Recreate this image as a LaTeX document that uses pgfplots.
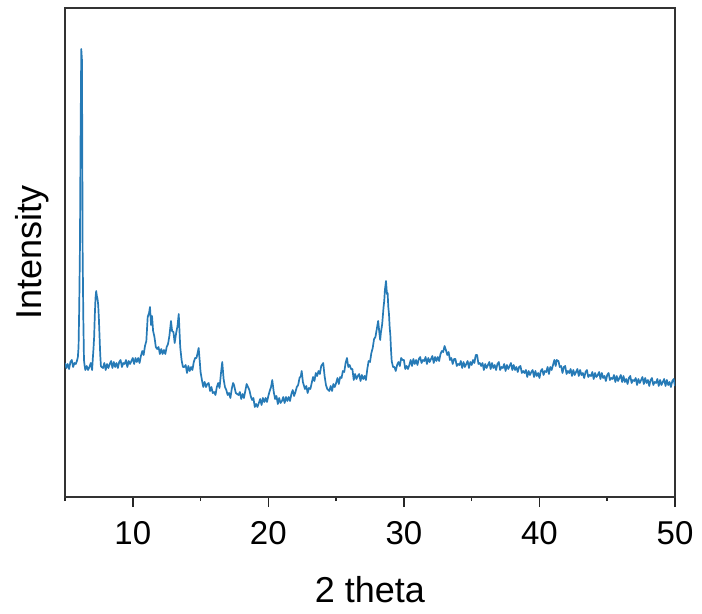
\documentclass[border=0pt]{standalone}
\usepackage{fontspec}
\setmainfont{Liberation Sans}
\usepackage{pgfplots}
\pgfplotsset{compat=1.18}
\definecolor{trace}{RGB}{38,122,182}
\begin{document}
\begin{tikzpicture}
\begin{axis}[
  scale only axis,
  width=305pt, height=244.5pt,
  xmin=5, xmax=50, ymin=0, ymax=489,
  axis line style={black!80, line width=1pt},
  xtick={10,20,30,40,50},
  minor xtick={5,15,25,35,45},
  ytick=\empty,
  xtick pos=bottom,
  tick align=outside,
  major tick length=5pt,
  minor tick length=2pt,
  every tick/.style={black!85, line width=0.8pt},
  /pgf/number format/assume math mode=true,
  xticklabel style={font=\fontsize{16.5}{18}\selectfont, anchor=north, inner sep=0pt, yshift=-7pt},
  xlabel={2 theta},
  ylabel={Intensity},
  xlabel style={font=\fontsize{18}{20}\selectfont, at={([yshift=-52.5pt]rel axis cs:0.5,0)}, anchor=base, inner sep=0pt},
  ylabel style={font=\fontsize{18}{20}\selectfont, at={([xshift=-11.5pt]rel axis cs:0,0.5)}, anchor=base, inner sep=0pt},
  clip=true,
]
\addplot[trace, line width=0.85pt, line join=round] coordinates {
(5.0,134)(5.1,129)(5.2,133)(5.3,128)(5.4,135)(5.5,137)(5.6,130)(5.7,134)(5.8,133)(5.9,137)
(5.95,140)(6.0,150)(6.05,190)(6.1,247)(6.15,360)(6.2,448)(6.25,437)(6.28,330)(6.3,247)(6.35,180)(6.4,137)(6.45,131)
(6.5,127)(6.6,131)(6.7,127)(6.8,130)(6.9,134)(7.0,127)
(7.05,138)(7.1,148)(7.15,160)(7.2,182)(7.25,199)(7.3,206)(7.35,201)(7.4,198)(7.45,192)(7.5,178)(7.55,160)(7.6,142)(7.65,131)
(7.7,130)(7.8,129)(7.9,134)(8.0,127)(8.1,133)(8.2,129)(8.3,133)(8.4,136)(8.5,129)(8.6,135)(8.7,130)(8.8,134)(8.9,129)
(9.0,135)(9.1,137)(9.2,130)(9.3,134)(9.4,133)(9.5,137)(9.6,130)(9.7,136)(9.8,133)(9.9,136)
(10.0,139)(10.1,133)(10.2,139)(10.3,135)(10.4,139)(10.5,134)(10.6,141)(10.7,146)(10.8,142)(10.9,151)
(11.0,156)(11.1,180)(11.2,184)(11.27,190)(11.35,172)(11.42,181)(11.5,166)(11.6,160)(11.7,150)(11.8,148)(11.9,150)
(12.0,143)(12.1,148)(12.2,143)(12.3,147)(12.4,143)(12.5,150)(12.6,153)(12.7,161)(12.82,176)(12.9,166)
(13.0,165)(13.09,154)(13.2,164)(13.3,171)(13.39,183)(13.45,165)(13.5,150)(13.6,137)(13.7,130)(13.8,130)(13.9,132)
(14.0,124)(14.1,131)(14.2,126)(14.3,130)(14.4,127)(14.5,135)(14.6,139)(14.7,139)(14.8,145)(14.86,149)(14.95,134)
(15.0,125)(15.1,117)(15.2,110)(15.3,115)(15.4,110)(15.5,113)(15.6,114)(15.7,106)(15.8,110)(15.9,104)
(16.0,105)(16.1,102)(16.2,110)(16.3,114)(16.4,109)(16.5,123)(16.6,135)(16.7,118)(16.8,110)(16.9,107)
(17.0,102)(17.1,104)(17.2,99)(17.3,108)(17.4,114)(17.47,112)(17.6,104)(17.7,103)(17.8,102)(17.9,105)
(18.0,98)(18.1,103)(18.2,99)(18.3,106)(18.4,113)(18.5,110)(18.6,107)(18.7,101)(18.8,97)(18.9,99)
(19.0,90)(19.1,93)(19.2,90)(19.3,94)(19.4,98)(19.5,92)(19.6,99)(19.7,95)(19.8,99)(19.9,95)
(20.0,101)(20.1,106)(20.2,110)(20.29,117)(20.4,105)(20.5,98)(20.6,101)(20.7,93)(20.8,99)(20.9,94)
(21.0,96)(21.1,100)(21.2,94)(21.3,100)(21.4,96)(21.5,100)(21.6,96)(21.7,103)(21.8,107)(21.9,101)
(22.0,105)(22.1,110)(22.2,112)(22.3,119)(22.4,121)(22.46,126)(22.55,115)(22.7,108)(22.8,111)(22.9,104)
(23.0,109)(23.1,108)(23.2,114)(23.3,120)(23.4,116)(23.5,124)(23.6,121)(23.7,126)(23.8,123)(23.9,131)
(24.0,133)(24.05,134)(24.15,121)(24.25,112)(24.35,108)(24.5,106)(24.6,111)(24.7,106)(24.8,113)(24.9,110)
(25.0,114)(25.1,119)(25.2,113)(25.3,120)(25.4,119)(25.5,126)(25.6,125)(25.7,134)(25.8,139)(25.9,130)
(26.0,132)(26.1,128)(26.2,128)(26.3,117)(26.4,123)(26.5,118)(26.6,121)(26.7,123)(26.8,116)(26.9,122)
(27.0,118)(27.1,121)(27.2,117)(27.3,128)(27.4,136)(27.5,135)(27.6,144)(27.7,149)(27.8,158)(27.9,160)
(28.0,168)(28.1,176)(28.2,163)(28.25,157)(28.3,164)(28.4,173)(28.5,190)(28.55,196)(28.6,207)(28.68,216)
(28.75,203)(28.8,204)(28.85,190)(28.9,183)(28.95,170)(29.0,162)(29.05,147)(29.1,136)(29.2,130)(29.3,130)
(29.4,126)(29.5,132)(29.6,135)(29.7,131)(29.8,139)(29.9,137)
(30.0,137)(30.1,128)(30.2,131)(30.3,128)(30.4,132)(30.5,137)(30.6,131)(30.7,138)(30.8,133)(30.9,137)
(31.0,132)(31.1,138)(31.2,140)(31.3,134)(31.4,137)(31.5,136)(31.6,140)(31.7,133)(31.8,139)(31.9,135)
(32.0,138)(32.1,141)(32.2,134)(32.3,140)(32.4,136)(32.5,140)(32.6,136)(32.7,143)(32.8,146)(32.9,145)
(33.0,151)(33.1,147)(33.2,142)(33.3,145)(33.4,137)(33.5,139)(33.6,133)(33.7,138)(33.8,138)(33.9,131)
(34.0,133)(34.1,132)(34.2,136)(34.3,129)(34.4,135)(34.5,130)(34.6,133)(34.7,136)(34.8,129)(34.9,135)
(35.0,132)(35.1,137)(35.2,134)(35.3,142)(35.4,142)(35.5,133)(35.6,134)(35.7,131)(35.8,134)(35.9,127)
(36.0,133)(36.1,129)(36.2,132)(36.3,135)(36.4,128)(36.5,134)(36.6,129)(36.7,132)(36.8,127)(36.9,133)
(37.0,135)(37.1,127)(37.2,130)(37.3,129)(37.4,133)(37.5,126)(37.6,132)(37.7,128)(37.8,131)(37.9,134)
(38.0,127)(38.1,132)(38.2,127)(38.3,130)(38.4,125)(38.5,130)(38.6,131)(38.7,124)(38.8,126)(38.9,124)
(39.0,127)(39.1,120)(39.2,126)(39.3,122)(39.4,125)(39.5,127)(39.6,120)(39.7,126)(39.8,121)(39.9,124)
(40.0,119)(40.1,126)(40.2,128)(40.3,122)(40.4,126)(40.5,125)(40.6,130)(40.7,123)(40.8,130)(40.9,127)
(41.0,132)(41.1,137)(41.2,131)(41.27,137)(41.4,136)(41.5,130)(41.6,131)(41.7,124)(41.8,130)(41.9,131)
(42.0,123)(42.1,126)(42.2,124)(42.3,128)(42.4,121)(42.5,127)(42.6,122)(42.7,125)(42.8,128)(42.9,121)
(43.0,127)(43.1,122)(43.2,124)(43.3,119)(43.4,125)(43.5,127)(43.6,120)(43.7,122)(43.8,121)(43.9,125)
(44.0,118)(44.1,124)(44.2,120)(44.3,122)(44.4,125)(44.5,118)(44.6,124)(44.7,119)(44.8,121)(44.9,116)
(45.0,122)(45.1,124)(45.2,117)(45.3,119)(45.4,118)(45.5,122)(45.6,115)(45.7,121)(45.8,116)(45.9,119)
(46.0,122)(46.1,115)(46.2,121)(46.3,115)(46.4,118)(46.5,113)(46.6,119)(46.7,121)(46.8,114)(46.9,117)
(47.0,116)(47.1,119)(47.2,112)(47.3,118)(47.4,114)(47.5,117)(47.6,120)(47.7,113)(47.8,119)(47.9,114)
(48.0,117)(48.1,111)(48.2,117)(48.3,119)(48.4,112)(48.5,115)(48.6,114)(48.7,118)(48.8,111)(48.9,117)
(49.0,112)(49.1,115)(49.2,118)(49.3,111)(49.4,117)(49.5,112)(49.6,115)(49.7,110)(49.8,116)(49.9,118)
(50.0,111)
};
\end{axis}
\path ([shift={(-32.5pt,-58pt)}]current axis.south west) rectangle ([shift={(13.5pt,4pt)}]current axis.north east);
\end{tikzpicture}
\end{document}
